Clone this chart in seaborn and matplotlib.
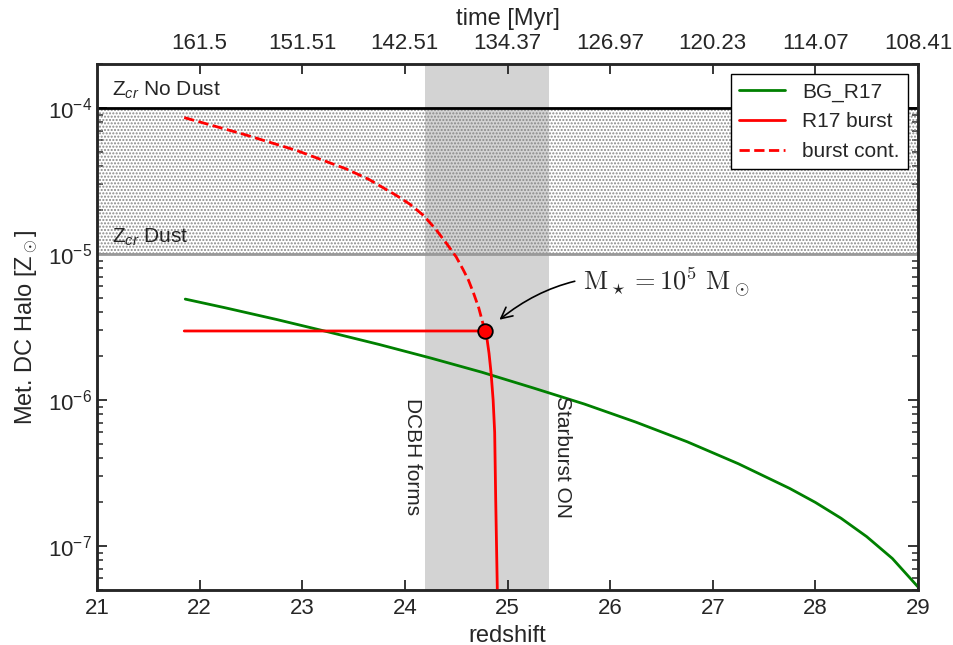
import matplotlib
matplotlib.use("Agg")
import matplotlib.pyplot as plt
import seaborn as sns
import numpy as np
import pandas as pd

# ---------------- data ----------------
z_bg = [21.86, 22.25, 22.75, 23.25, 23.75, 24.25, 24.75, 25.25, 25.75, 26.25,
        26.75, 27.25, 27.75, 28.0, 28.25, 28.5, 28.75, 29.0]
Z_bg = [4.91e-6, 4.28e-6, 3.56e-6, 2.93e-6, 2.40e-6, 1.94e-6, 1.55e-6, 1.21e-6,
        9.38e-7, 7.06e-7, 5.18e-7, 3.66e-7, 2.48e-7, 1.99e-7, 1.55e-7, 1.16e-7,
        8.22e-8, 5.25e-8]

z_burst = [21.85, 24.78, 24.80, 24.82, 24.84, 24.86, 24.875, 24.885, 24.90, 24.905]
Z_burst = [2.97e-6, 2.97e-6, 2.63e-6, 2.09e-6, 1.53e-6, 1.0e-6, 6.0e-7, 2.1e-7,
           5.4e-8, 3.0e-8]

z_cont = [21.85, 22.43, 22.95, 23.43, 23.65, 23.92, 24.05, 24.18, 24.30, 24.41,
          24.50, 24.57, 24.62, 24.67, 24.72, 24.78]
Z_cont = [8.59e-5, 6.6e-5, 5.1e-5, 3.82e-5, 3.24e-5, 2.51e-5, 2.19e-5, 1.84e-5,
          1.48e-5, 1.17e-5, 9.55e-6, 7.76e-6, 6.61e-6, 5.37e-6, 4.27e-6, 2.97e-6]

z_mark = [24.78]
Z_mark = [2.97e-6]

Z_cr_nodust = 1e-4
Z_cr_dust = 1e-5
band = (24.2, 25.4)

top_ticks = [22, 23, 24, 25, 26, 27, 28, 29]
top_labels = ["161.5", "151.51", "142.51", "134.37", "126.97", "120.23", "114.07", "108.41"]

# ---------------- style ----------------
sns.set_style("ticks")
plt.rcParams["font.family"] = ["Liberation Sans", "DejaVu Sans"]
plt.rcParams["mathtext.fontset"] = "custom"
plt.rcParams["mathtext.rm"] = "Liberation Sans"
plt.rcParams["mathtext.it"] = "Liberation Sans:italic"
plt.rcParams["hatch.linewidth"] = 1.0
plt.rcParams["hatch.color"] = "#888888"

tc = "#262626"
fig = plt.figure(figsize=(9.54, 6.45), dpi=100)
ax = fig.add_axes([97/954, 1-590/645, (918-97)/954, (590-64)/645])

# shaded band + hatched critical metallicity region
ax.axvspan(band[0], band[1], color="lightgray", zorder=0, lw=0)
ax.fill_between([21, 29], Z_cr_dust, Z_cr_nodust, facecolor="none",
                edgecolor="#888888", hatch=".....", lw=0, zorder=1)
ax.axhline(Z_cr_nodust, color="black", lw=2, zorder=2)
ax.axhline(Z_cr_dust, color="#999999", lw=2, zorder=2)

df_bg = pd.DataFrame({"z": z_bg, "Z": Z_bg})
df_b = pd.DataFrame({"z": z_burst, "Z": Z_burst})
df_c = pd.DataFrame({"z": z_cont, "Z": Z_cont})
sns.lineplot(data=df_bg, x="z", y="Z", color="green", lw=2, label="BG_R17",
             estimator=None, ax=ax, zorder=3)
sns.lineplot(data=df_b, x="z", y="Z", color="red", lw=2, label="R17 burst",
             estimator=None, ax=ax, zorder=3)
sns.lineplot(data=df_c, x="z", y="Z", color="red", lw=2, ls="--", label="burst cont.",
             estimator=None, ax=ax, zorder=3)
sns.scatterplot(x=z_mark, y=Z_mark, color="red", edgecolor="black", linewidth=1.3,
                s=110, ax=ax, zorder=5, legend=False)

ax.set_yscale("log")
ax.set_xlim(21, 29)
ax.set_ylim(5e-8, 2e-4)
ax.set_xticks(range(21, 30))

ax.text(21.15, 1.33e-4, r"Z$_{cr}$ No Dust", fontsize=15, color=tc, va="center")
ax.text(21.15, 1.3e-5, r"Z$_{cr}$ Dust", fontsize=15, color=tc, va="center")
ax.text(24.07, 4.1e-7, "DCBH forms", rotation=270, fontsize=15, color=tc,
        ha="center", va="center")
ax.text(25.54, 4.1e-7, "Starburst ON", rotation=270, fontsize=15, color=tc,
        ha="center", va="center")

ax.annotate(r"$\mathrm{M}_\star = 10^5\ \mathrm{M}_\odot$", xy=(24.9, 3.45e-6),
            xytext=(25.74, 6.4e-6), fontsize=19, math_fontfamily="cm", color=tc,
            va="center", ha="left",
            arrowprops=dict(arrowstyle="->", color="black", lw=1.2,
                            connectionstyle="arc3,rad=0.25", shrinkA=4, shrinkB=2,
                            mutation_scale=20))

ax.set_xlabel("redshift", fontsize=17, color=tc, labelpad=4)
ax.set_ylabel(r"Met. DC Halo [Z$_\odot$]", fontsize=17, color=tc, labelpad=6)

for s in ax.spines.values():
    s.set_linewidth(1.8)
    s.set_color(tc)
ax.tick_params(which="both", direction="in", right=True, top=False, colors=tc,
               labelsize=16)
ax.tick_params(which="major", length=7, width=1.3)
ax.tick_params(which="minor", length=4, width=1.1)
ax.tick_params(axis="x", which="minor", bottom=False)
ax.tick_params(axis="x", which="major", pad=6)

leg = ax.legend(loc="upper right", fontsize=15, fancybox=False, framealpha=1,
                edgecolor="black", handlelength=2.2, borderaxespad=0.5,
                labelspacing=0.5)
leg.get_frame().set_linewidth(1.0)
for t in leg.get_texts():
    t.set_color(tc)

ax2 = ax.twiny()
ax2.set_xlim(21, 29)
ax2.set_xticks(top_ticks)
ax2.set_xticklabels(top_labels)
ax2.tick_params(direction="in", length=7, width=1.3, colors=tc, labelsize=16, pad=7)
ax2.tick_params(axis="x", which="minor", top=False)
ax2.set_xlabel("time [Myr]", fontsize=17, color=tc, labelpad=6)
for s in ax2.spines.values():
    s.set_linewidth(1.8)
    s.set_color(tc)

fig.savefig("out.png", dpi=100)
